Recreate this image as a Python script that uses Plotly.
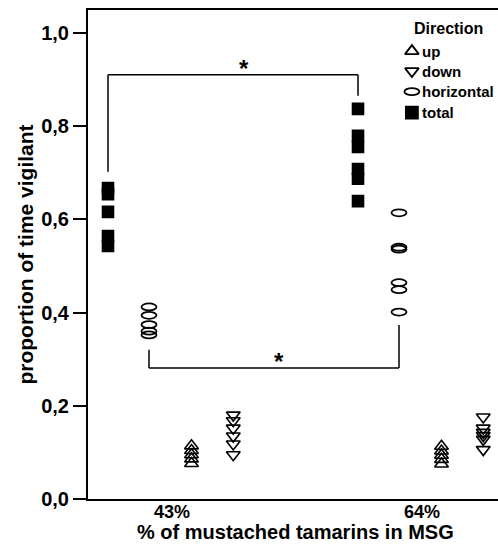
import plotly.graph_objects as go

# ---- data ----
categories = ["43%", "64%"]
up_43 = [0.114, 0.104, 0.095, 0.086, 0.076]
up_64 = [0.113, 0.103, 0.094, 0.085, 0.075]
down_43 = [0.180, 0.168, 0.152, 0.135, 0.118, 0.095]
down_64 = [0.176, 0.152, 0.143, 0.136, 0.128, 0.106]
horiz_43 = [0.412, 0.394, 0.374, 0.360, 0.352]
horiz_64 = [0.614, 0.540, 0.536, 0.464, 0.449, 0.401]
total_43 = [0.667, 0.654, 0.616, 0.564, 0.543]
total_64 = [0.837, 0.779, 0.755, 0.708, 0.687, 0.639]
y_ticks = [0.0, 0.2, 0.4, 0.6, 0.8, 1.0]
y_tick_labels = ["0,0", "0,2", "0,4", "0,6", "0,8", "1,0"]

# ---- layout helpers ----
cat_pos = [1, 2]
offsets = {"total": -0.256, "horiz": -0.092, "up": 0.078, "down": 0.245}
FONT = "Liberation Sans, Arial, sans-serif"

fig = go.Figure()


def xs(cat_index, key, n):
    return [cat_pos[cat_index] + offsets[key]] * n


series = [
    ("up", [up_43, up_64], "triangle-up-open", 12),
    ("down", [down_43, down_64], "triangle-down-open", 12),
    ("total", [total_43, total_64], "square", 11),
]
for key, vals, sym, size in series:
    for ci, v in enumerate(vals):
        fig.add_trace(go.Scatter(
            x=xs(ci, key, len(v)), y=v, mode="markers",
            marker=dict(symbol=sym, size=size, color="black",
                        line=dict(color="black", width=1.6)),
            showlegend=False, hoverinfo="skip"))

shapes = []
# horizontal: open ellipses, anchored to data coordinates
for ci, v in enumerate([horiz_43, horiz_64]):
    for val in v:
        shapes.append(dict(type="circle", xref="x", yref="y",
                           xsizemode="pixel", ysizemode="pixel",
                           xanchor=cat_pos[ci] + offsets["horiz"], yanchor=val,
                           x0=-7.5, x1=7.5, y0=-3.5, y1=3.5,
                           line=dict(color="black", width=1.8)))

# significance brackets
b1_y, b1_left_low, b1_right_low = 0.91, 0.702, 0.865
b2_y, b2_left_top, b2_right_top = 0.281, 0.32, 0.373
xl1, xr1 = cat_pos[0] + offsets["total"], cat_pos[1] + offsets["total"]
xl2, xr2 = cat_pos[0] + offsets["horiz"], cat_pos[1] + offsets["horiz"]
bl = dict(color="black", width=1.5)
shapes += [
    dict(type="line", xref="x", yref="y", x0=xl1, x1=xr1, y0=b1_y, y1=b1_y, line=bl),
    dict(type="line", xref="x", yref="y", x0=xl1, x1=xl1, y0=b1_y, y1=b1_left_low, line=bl),
    dict(type="line", xref="x", yref="y", x0=xr1, x1=xr1, y0=b1_y, y1=b1_right_low, line=bl),
    dict(type="line", xref="x", yref="y", x0=xl2, x1=xr2, y0=b2_y, y1=b2_y, line=bl),
    dict(type="line", xref="x", yref="y", x0=xl2, x1=xl2, y0=b2_y, y1=b2_left_top, line=bl),
    dict(type="line", xref="x", yref="y", x0=xr2, x1=xr2, y0=b2_y, y1=b2_right_top, line=bl),
]

annotations = [
    dict(x=(xl1 + xr1) / 2 + 0.045, y=b1_y, xref="x", yref="y", text="<b>*</b>",
         showarrow=False, xanchor="center", yanchor="bottom", yshift=-9,
         font=dict(family=FONT, size=24, color="black")),
    dict(x=(xl2 + xr2) / 2 + 0.02, y=b2_y, xref="x", yref="y", text="<b>*</b>",
         showarrow=False, xanchor="center", yanchor="bottom", yshift=-9,
         font=dict(family=FONT, size=24, color="black")),
    # x-axis title placed below the tick labels
    dict(x=0.507, y=0, xref="paper", yref="paper", xanchor="center", yanchor="bottom",
         yshift=-46, text="<b>% of mustached tamarins in MSG</b>", showarrow=False,
         font=dict(family=FONT, size=20, color="black")),
]
# x tick labels (category names) just below the axis
for cp, c in zip(cat_pos, categories):
    annotations.append(dict(x=cp, y=0, xref="x", yref="paper", xanchor="center",
                            yanchor="top", yshift=-1, text=f"<b>{c}</b>", showarrow=False,
                            font=dict(family=FONT, size=18, color="black")))

# ---- manual legend ----
leg_title_xy = (0.88, 0.963)
leg_mx, leg_tx = 0.790, 0.810
leg_rows = [("up", 0.916), ("down", 0.875), ("horizontal", 0.833), ("total", 0.790)]
annotations.append(dict(x=leg_title_xy[0], y=leg_title_xy[1], xref="paper", yref="paper",
                        xanchor="center", yanchor="middle", text="<b>Direction</b>",
                        showarrow=False, font=dict(family=FONT, size=16, color="black")))
for name, yy in leg_rows:
    annotations.append(dict(x=leg_tx, y=yy, xref="paper", yref="paper", xanchor="left",
                            yanchor="middle", text=f"<b>{name}</b>", showarrow=False,
                            font=dict(family=FONT, size=15, color="black")))
legend_syms = {"up": "triangle-up-open", "down": "triangle-down-open", "total": "square"}
for name, yy in leg_rows:
    if name == "horizontal":
        shapes.append(dict(type="circle", xref="paper", yref="paper",
                           xsizemode="pixel", ysizemode="pixel",
                           xanchor=leg_mx, yanchor=yy, x0=-7.5, x1=7.5, y0=-3.5, y1=3.5,
                           line=dict(color="black", width=1.8)))
    else:
        fig.add_trace(go.Scatter(
            x=[leg_mx], y=[yy], xaxis="x2", yaxis="y2", mode="markers",
            marker=dict(symbol=legend_syms[name], size=12, color="black",
                        line=dict(color="black", width=1.8)),
            showlegend=False, hoverinfo="skip"))

fig.update_layout(
    width=498, height=545,
    margin=dict(l=88, r=0, t=10, b=46),
    plot_bgcolor="white", paper_bgcolor="white",
    showlegend=False,
    font=dict(family=FONT, color="black"),
    shapes=shapes, annotations=annotations,
    xaxis=dict(range=[0.664, 2.304], tickvals=cat_pos, showticklabels=False,
               showline=True, linecolor="black", linewidth=2, mirror=True,
               ticks="", showgrid=False, zeroline=False),
    yaxis=dict(range=[0, 1.049], tickvals=y_ticks, ticktext=[f"<b>{t}</b>" for t in y_tick_labels],
               showline=True, linecolor="black", linewidth=2,
               ticks="outside", ticklen=13, tickwidth=2, tickcolor="black",
               showgrid=False, zeroline=False,
               tickfont=dict(family=FONT, size=20),
               title=dict(text="<b>proportion of time vigilant</b>", standoff=2,
                          font=dict(family=FONT, size=21))),
    xaxis2=dict(overlaying="x", range=[0, 1], visible=False),
    yaxis2=dict(overlaying="y", range=[0, 1], visible=False),
)

fig.write_html("out.html", config={"displayModeBar": False},
               post_script="document.body.style.margin='0px';document.body.style.overflow='hidden';")
